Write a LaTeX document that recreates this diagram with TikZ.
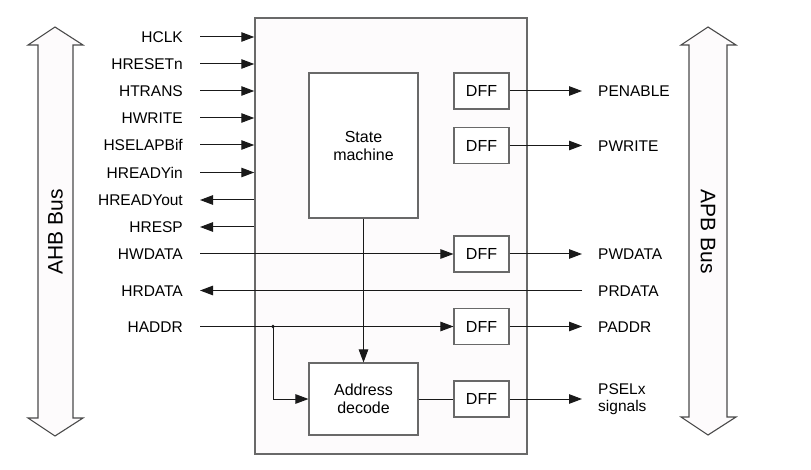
\documentclass[tikz,border=0pt]{standalone}
\usepackage{fontspec}
\setmainfont{Liberation Sans}
\usetikzlibrary{arrows.meta}
\definecolor{boxline}{RGB}{105,105,105}
\definecolor{sigline}{RGB}{25,25,25}
\definecolor{boxfill}{RGB}{253,251,252}
\begin{document}
\begin{tikzpicture}[x=1pt,y=-1pt,
  sig/.style={draw=sigline, line width=1pt},
  arr/.style={sig, -{Triangle[length=13pt,width=9.5pt]}},
  blk/.style={draw=boxline, line width=1.1pt, fill=white, inner sep=0pt,
    font=\fontsize{16}{18}\selectfont, align=center},
  lab/.style={font=\fontsize{15.5}{17}\selectfont, inner sep=0pt,
    text height=11.1pt, text depth=0pt},
  lab2/.style={font=\fontsize{15.5}{17}\selectfont, inner sep=0pt, align=left},
  buslab/.style={font=\fontsize{21}{24}\selectfont, inner sep=0pt},
  bus/.style={draw=boxline!70!black, line width=1.1pt, fill=boxfill},
]
\useasboundingbox (0,0) rectangle (811,470);

% bus arrows
\draw[bus] (55,27) -- (83,45) -- (73,45) -- (73,418) -- (83,418) -- (55,436)
  -- (28,418) -- (38,418) -- (38,45) -- (28,45) -- cycle;
\draw[bus] (708,27) -- (736,45) -- (727,45) -- (727,417) -- (736,417) -- (708,435)
  -- (681,417) -- (689,417) -- (689,45) -- (681,45) -- cycle;
\node[buslab, rotate=90] (ahb) at (55.5,232) {AHB Bus};
\node[buslab, rotate=-90] (apb) at (708,232) {APB Bus};

% main block and inner blocks
\node[blk, line width=1.5pt, fill=boxfill, minimum width=272pt, minimum height=436pt] (main) at (391,236) {};
\node[blk, minimum width=109pt, minimum height=145pt] (sm) at (363.5,145.5) {State\\machine};
\node[blk, minimum width=109pt, minimum height=72pt] (ad) at (363.5,399) {Address\\decode};
\node[blk, minimum width=55pt, minimum height=36pt] (d1) at (481.5,91) {DFF};
\node[blk, minimum width=55pt, minimum height=36pt] (d2) at (481.5,145.5) {DFF};
\node[blk, minimum width=55pt, minimum height=36pt] (d3) at (481.5,254) {DFF};
\node[blk, minimum width=55pt, minimum height=36pt] (d4) at (481.5,326.5) {DFF};
\node[blk, minimum width=55pt, minimum height=36pt] (d5) at (481.5,399) {DFF};

% left labels
\node[lab, anchor=east] (lhclk) at (183,37) {HCLK};
\node[lab, anchor=east] (lhres) at (183,64) {HRESETn};
\node[lab, anchor=east] (lhtr) at (183,91) {HTRANS};
\node[lab, anchor=east] (lhwr) at (183,118) {HWRITE};
\node[lab, anchor=east] (lhsel) at (183,145) {HSELAPBif};
\node[lab, anchor=east] (lhrin) at (183,172.5) {HREADYin};
\node[lab, anchor=east] (lhrout) at (183,200) {HREADYout};
\node[lab, anchor=east] (lhresp) at (183,227) {HRESP};
\node[lab, anchor=east] (lhwd) at (183,254) {HWDATA};
\node[lab, anchor=east] (lhrd) at (183,290.5) {HRDATA};
\node[lab, anchor=east] (lhad) at (183,326.5) {HADDR};

% left line ends
\coordinate (chclk) at (200,37);
\coordinate (chres) at (200,64);
\coordinate (chtr) at (200,91);
\coordinate (chwr) at (200,118);
\coordinate (chsel) at (200,145);
\coordinate (chrin) at (200,172.5);
\coordinate (chrout) at (200,200);
\coordinate (chresp) at (200,227);
\coordinate (chwd) at (200,254);
\coordinate (chrd) at (200,290.5);
\coordinate (chad) at (200,326.5);

\foreach \c in {chclk,chres,chtr,chwr,chsel,chrin}
  \draw[arr] (\c) -- (\c -| main.west);
\foreach \c in {chrout,chresp}
  \draw[arr] (\c -| main.west) -- (\c);

\draw[arr] (chwd) -- (d3.west);
\draw[arr] (chad) -- (d4.west);

% right labels
\node[lab, anchor=west] (lpen) at (598,91) {PENABLE};
\node[lab, anchor=west] (lpwr) at (598,145.5) {PWRITE};
\node[lab, anchor=west] (lpwd) at (598,254) {PWDATA};
\node[lab, anchor=west] (lprd) at (598,290.5) {PRDATA};
\node[lab, anchor=west] (lpad) at (598,326.5) {PADDR};
\node[lab2, anchor=west] (lpsel) at (598,399) {PSELx\\signals};

\coordinate (cpen) at (582,91);
\coordinate (cpwr) at (582,145.5);
\coordinate (cpwd) at (582,254);
\coordinate (cprd) at (582,290.5);
\coordinate (cpad) at (582,326.5);
\coordinate (cpsel) at (582,399);

\draw[arr] (d1.east) -- (cpen);
\draw[arr] (d2.east) -- (cpwr);
\draw[arr] (d3.east) -- (cpwd);
\draw[arr] (d4.east) -- (cpad);
\draw[arr] (d5.east) -- (cpsel);
\draw[arr] (cprd) -- (chrd);

% internal connections
\coordinate (jn) at (273,326.5);
\fill[sigline] (jn) circle (1.8pt);
\draw[arr] (jn) -- (jn |- ad.west) -- (ad.west);
\draw[arr] (sm.south) -- (ad.north);
\draw[sig] (ad.east) -- (d5.west);
\end{tikzpicture}
\end{document}
